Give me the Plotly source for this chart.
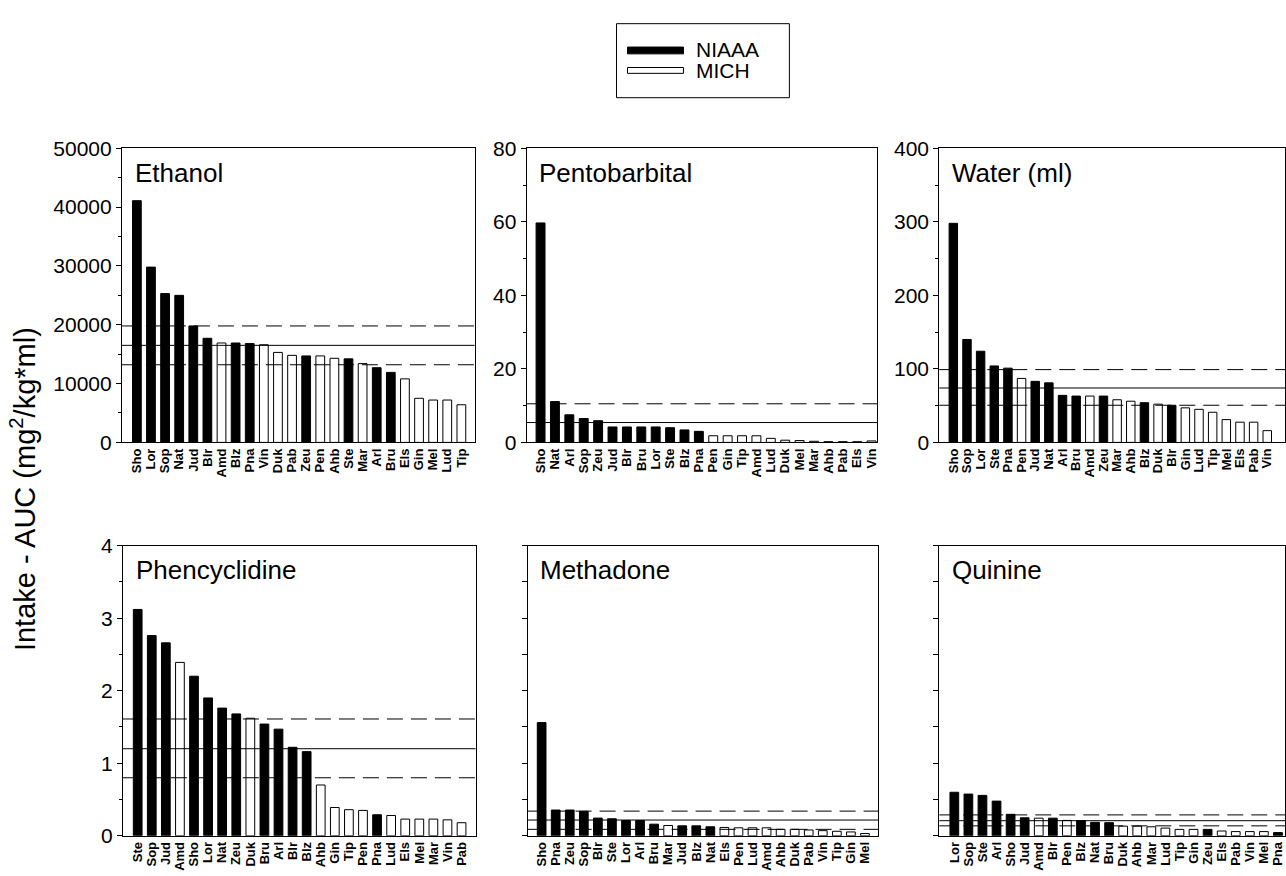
import plotly.graph_objects as go

W, H = 1286, 876

# ---------------- data ----------------
NIAAA = ["Sho", "Lor", "Sop", "Nat", "Jud", "Blr", "Blz", "Pna", "Zeu", "Ste", "Arl", "Bru"]
MICH = ["Amd", "Vin", "Duk", "Pab", "Pen", "Ahb", "Mar", "Els", "Gin", "Mel", "Lud", "Tip"]

ethanol_cats = ["Sho", "Lor", "Sop", "Nat", "Jud", "Blr", "Amd", "Blz", "Pna", "Vin", "Duk", "Pab",
                "Zeu", "Pen", "Ahb", "Ste", "Mar", "Arl", "Bru", "Els", "Gin", "Mel", "Lud", "Tip"]
ethanol_vals = [41100, 29800, 25300, 25000, 19800, 17700, 16900, 16900, 16800, 16600, 15300, 14800,
                14700, 14700, 14300, 14200, 13400, 12700, 11900, 10800, 7500, 7200, 7200, 6400]
ethanol_lines = [19800, 16500, 13200]

pento_cats = ["Sho", "Nat", "Arl", "Sop", "Zeu", "Jud", "Blr", "Bru", "Lor", "Ste", "Blz", "Pna",
              "Pen", "Gin", "Tip", "Amd", "Lud", "Duk", "Mel", "Mar", "Ahb", "Pab", "Els", "Vin"]
pento_vals = [59.7, 11.1, 7.5, 6.5, 5.9, 4.2, 4.2, 4.2, 4.2, 4.0, 3.4, 3.0,
              1.8, 1.8, 1.8, 1.8, 1.1, 0.6, 0.5, 0.3, 0.2, 0.2, 0.2, 0.4]
pento_lines = [10.5, 5.4]

water_cats = ["Sho", "Sop", "Lor", "Ste", "Pna", "Pen", "Jud", "Nat", "Arl", "Bru", "Amd", "Zeu",
              "Mar", "Ahb", "Blz", "Duk", "Blr", "Gin", "Lud", "Tip", "Mel", "Els", "Pab", "Vin"]
water_vals = [298, 140, 124, 104, 101, 87, 83, 81, 64, 63, 63, 63,
              58, 56, 54, 52, 50.5, 47, 45, 41, 31, 27.5, 27.5, 16]
water_lines = [99, 74, 50.5]

pcp_cats = ["Ste", "Sop", "Jud", "Amd", "Sho", "Lor", "Nat", "Zeu", "Duk", "Bru", "Arl", "Blr",
            "Blz", "Ahb", "Gin", "Tip", "Pen", "Pna", "Lud", "Els", "Mel", "Mar", "Vin", "Pab"]
pcp_vals = [3.12, 2.76, 2.66, 2.39, 2.20, 1.90, 1.76, 1.68, 1.62, 1.54, 1.47, 1.22,
            1.16, 0.70, 0.39, 0.36, 0.35, 0.29, 0.28, 0.23, 0.23, 0.23, 0.22, 0.18]
pcp_lines = [1.61, 1.20, 0.80]

meth_cats = ["Sho", "Pna", "Zeu", "Sop", "Blr", "Ste", "Lor", "Arl", "Bru", "Mar", "Jud", "Blz",
             "Nat", "Els", "Pen", "Lud", "Amd", "Ahb", "Duk", "Pab", "Vin", "Tip", "Gin", "Mel"]
meth_vals = [1.56, 0.355, 0.355, 0.337, 0.244, 0.235, 0.21, 0.21, 0.16, 0.142, 0.137, 0.137,
             0.124, 0.115, 0.11, 0.11, 0.11, 0.089, 0.089, 0.08, 0.071, 0.062, 0.053, 0.031]
meth_lines = [0.34, 0.217, 0.089]

quin_cats = ["Lor", "Sop", "Ste", "Arl", "Sho", "Jud", "Amd", "Blr", "Pen", "Blz", "Nat", "Bru",
             "Duk", "Ahb", "Mar", "Lud", "Tip", "Gin", "Zeu", "Els", "Pab", "Vin", "Mel", "Pna"]
quin_vals = [0.60, 0.575, 0.557, 0.478, 0.296, 0.248, 0.243, 0.243, 0.212, 0.208, 0.186, 0.181,
             0.133, 0.133, 0.124, 0.106, 0.088, 0.088, 0.088, 0.066, 0.058, 0.058, 0.058, 0.044]
quin_lines = [0.288, 0.208, 0.137]

panels = [
    dict(name="Ethanol", cats=ethanol_cats, vals=ethanol_vals, lines=ethanol_lines,
         yr=[0, 50000], dt=10000, labels=True, px=(122, 475), py=(140, 442), xr=[-1.06, 23.94]),
    dict(name="Pentobarbital", cats=pento_cats, vals=pento_vals, lines=pento_lines,
         yr=[0, 80], dt=20, labels=True, px=(527, 878), py=(140, 442), xr=[-0.97, 23.4]),
    dict(name="Water (ml)", cats=water_cats, vals=water_vals, lines=water_lines,
         yr=[0, 400], dt=100, labels=True, px=(940, 1286), py=(140, 442), xr=[-1.03, 24.3]),
    dict(name="Phencyclidine", cats=pcp_cats, vals=pcp_vals, lines=pcp_lines,
         yr=[0, 4], dt=1, labels=True, px=(123, 476), py=(548, 846), xr=[-1.05, 24.0]),
    dict(name="Methadone", cats=meth_cats, vals=meth_vals, lines=meth_lines,
         yr=[0, 4], dt=0.5, labels=False, px=(528, 879), py=(548, 846), xr=[-1.0, 23.95]),
    dict(name="Quinine", cats=quin_cats, vals=quin_vals, lines=quin_lines,
         yr=[0, 4], dt=0.5, labels=False, px=(940, 1286), py=(548, 846), xr=[-1.07, 23.5]),
]

FONT = "Liberation Sans, Arial, sans-serif"

fig = go.Figure()
shapes = []
annotations = []
layout = {}

for i, p in enumerate(panels, start=1):
    xa = "x" if i == 1 else f"x{i}"
    ya = "y" if i == 1 else f"y{i}"
    xk = "xaxis" if i == 1 else f"xaxis{i}"
    yk = "yaxis" if i == 1 else f"yaxis{i}"
    colors = ["black" if c in NIAAA else "white" for c in p["cats"]]
    fig.add_trace(go.Bar(
        x=list(range(len(p["cats"]))), y=p["vals"], xaxis=xa, yaxis=ya,
        marker=dict(color=colors, line=dict(color="black", width=1)),
        width=0.62, showlegend=False, hoverinfo="skip"))
    x0, x1 = p["px"]
    y0, y1 = p["py"]
    layout[xk] = dict(
        domain=[x0 / W, min(x1 / W, 1.0)], anchor=ya, range=p["xr"],
        tickmode="array", tickvals=list(range(len(p["cats"]))),
        ticktext=[f"<b>{c}</b>" for c in p["cats"]],
        tickangle=-90, tickfont=dict(family=FONT, size=13, color="black"),
        showline=True, linecolor="black", linewidth=1, mirror=True,
        ticks="", showgrid=False, zeroline=False, fixedrange=True)
    ycfg = dict(
        domain=[1 - y1 / H, 1 - y0 / H], anchor=xa, range=p["yr"],
        tick0=0, dtick=p["dt"], ticks="outside", ticklen=5, tickcolor="black",
        tickformat="d" if p["dt"] >= 1 else None,
        showticklabels=p["labels"], tickfont=dict(family=FONT, size=21, color="black"),
        showline=True, linecolor="black", linewidth=1, mirror=True,
        showgrid=False, zeroline=False, fixedrange=True)
    if p["labels"]:
        ycfg["minor"] = dict(dtick=p["dt"] / 2, ticks="outside", ticklen=3, tickcolor="black")
    layout[yk] = ycfg
    # reference lines (mean and +/- band)
    for j, v in enumerate(p["lines"]):
        is_mean = j == 1
        shapes.append(dict(
            type="line", xref=f"{xa} domain", yref=ya, x0=0, x1=1, y0=v, y1=v,
            line=dict(color="black", width=1, dash="solid" if is_mean else "16px,8px"),
            layer="above"))
    annotations.append(dict(
        text=p["name"], xref=f"{xa} domain", yref=f"{ya} domain", x=0.031, y=0.915,
        xanchor="left", yanchor="middle", showarrow=False,
        font=dict(family=FONT, size=26, color="black")))

# y-axis title
annotations.append(dict(
    text="Intake - AUC (mg<sup>2</sup>/kg*ml)", xref="paper", yref="paper",
    x=23 / W, y=1 - 490 / H, xanchor="center", yanchor="middle", textangle=-90,
    showarrow=False, font=dict(family=FONT, size=29, color="black")))

# legend box
shapes.append(dict(type="rect", xref="paper", yref="paper",
                   x0=617 / W, x1=790 / W, y0=1 - 88 / H, y1=1 - 12 / H,
                   line=dict(color="black", width=1), fillcolor="white"))
shapes.append(dict(type="rect", xref="paper", yref="paper",
                   x0=628 / W, x1=684 / W, y0=1 - 43 / H, y1=1 - 36 / H,
                   line=dict(color="black", width=1), fillcolor="black"))
shapes.append(dict(type="rect", xref="paper", yref="paper",
                   x0=628 / W, x1=684 / W, y0=1 - 63 / H, y1=1 - 57 / H,
                   line=dict(color="black", width=1), fillcolor="white"))
annotations.append(dict(text="NIAAA", xref="paper", yref="paper", x=695 / W, y=1 - 39 / H,
                        xanchor="left", yanchor="middle", showarrow=False,
                        font=dict(family=FONT, size=21, color="black")))
annotations.append(dict(text="MICH", xref="paper", yref="paper", x=695 / W, y=1 - 60 / H,
                        xanchor="left", yanchor="middle", showarrow=False,
                        font=dict(family=FONT, size=21, color="black")))

fig.update_layout(
    width=W, height=H, margin=dict(l=0, r=0, t=0, b=0),
    paper_bgcolor="white", plot_bgcolor="white",
    bargap=0.35, shapes=shapes, annotations=annotations, **layout)

fig.write_html("out.html")
